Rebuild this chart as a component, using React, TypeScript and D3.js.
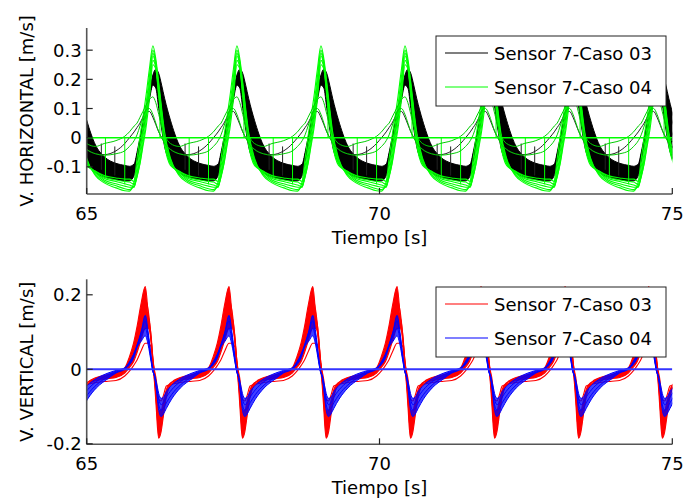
import React from 'react';
import * as d3 from 'd3';

// ---------- data ----------
const xTicks = [65, 70, 75];
const xTickLabels = ['65', '70', '75'];
const topYTicks = [-0.1, 0, 0.1, 0.2, 0.3];
const topYTickLabels = ['-0.1', '0', '0.1', '0.2', '0.3'];
const botYTicks = [-0.2, 0, 0.2];
const botYTickLabels = ['-0.2', '0', '0.2'];

// peak times of each cycle (s)
const topPeaks = [64.70, 66.13, 67.565, 69.0, 70.435, 71.87, 73.305, 74.74];
const botPeaks = [64.565, 66.0, 67.43, 68.86, 70.30, 71.735, 73.17, 74.60];

// phase (s, relative to the cycle peak) at which each cycle value is read
const phTop = [-0.40, -0.32, -0.27, -0.22, -0.17, -0.12, -0.06, 0, 0.05, 0.10, 0.15, 0.20, 0.30, 0.45, 0.60, 0.80, 0.95, 1.035];

// Sensor 7-Caso 04 (green), horizontal velocity
const hCaso04 = [
  [-0.183, -0.15, -0.07, 0.005, 0.07, 0.14, 0.235, 0.315, 0.27, 0.19, 0.10, 0.02, -0.07, -0.13, -0.155, -0.172, -0.182, -0.183],
  [-0.178, -0.165, -0.10, -0.03, 0.04, 0.11, 0.21, 0.30, 0.26, 0.18, 0.09, 0.01, -0.075, -0.125, -0.15, -0.165, -0.175, -0.178],
  [-0.17, -0.17, -0.12, -0.05, 0.02, 0.09, 0.19, 0.29, 0.25, 0.17, 0.085, 0.0, -0.08, -0.12, -0.145, -0.158, -0.166, -0.17],
  [-0.162, -0.168, -0.13, -0.07, 0.0, 0.07, 0.17, 0.28, 0.245, 0.16, 0.07, -0.01, -0.085, -0.12, -0.14, -0.15, -0.158, -0.162],
  [-0.152, -0.16, -0.135, -0.085, -0.02, 0.05, 0.15, 0.265, 0.24, 0.15, 0.06, -0.02, -0.09, -0.115, -0.135, -0.145, -0.15, -0.152],
  [-0.142, -0.15, -0.13, -0.09, -0.03, 0.03, 0.13, 0.25, 0.235, 0.14, 0.05, -0.025, -0.095, -0.115, -0.13, -0.138, -0.142, -0.142],
];
const hCaso04Thin = [
  [-0.03, -0.01, 0.01, 0.04, 0.07, 0.095, 0.10, 0.08, 0.05, 0.02, 0.0, -0.02, -0.04, -0.055, -0.06, -0.055, -0.045, -0.03],
  [0.02, 0.04, 0.05, 0.07, 0.09, 0.11, 0.13, 0.14, 0.12, 0.08, 0.04, 0.01, -0.02, -0.03, -0.02, -0.01, 0.005, 0.02],
];
// Sensor 7-Caso 03 (black), horizontal velocity
const hCaso03 = [
  [-0.098, -0.09, -0.05, 0.0, 0.05, 0.10, 0.16, 0.215, 0.235, 0.22, 0.18, 0.135, 0.06, -0.025, -0.065, -0.088, -0.095, -0.098],
  [-0.11, -0.10, -0.058, -0.008, 0.042, 0.092, 0.152, 0.205, 0.225, 0.195, 0.15, 0.10, 0.03, -0.05, -0.085, -0.103, -0.108, -0.11],
  [-0.122, -0.11, -0.065, -0.015, 0.035, 0.085, 0.145, 0.197, 0.21, 0.165, 0.11, 0.06, -0.01, -0.075, -0.105, -0.118, -0.122, -0.122],
  [-0.135, -0.12, -0.072, -0.022, 0.028, 0.078, 0.138, 0.19, 0.19, 0.135, 0.07, 0.015, -0.05, -0.1, -0.122, -0.132, -0.136, -0.135],
  [-0.148, -0.13, -0.08, -0.03, 0.02, 0.07, 0.13, 0.18, 0.17, 0.10, 0.03, -0.03, -0.085, -0.12, -0.135, -0.143, -0.148, -0.148],
];
const hCaso03Thin = [
  [0.0, 0.02, 0.035, 0.05, 0.07, 0.085, 0.09, 0.07, 0.045, 0.02, 0.0, -0.015, -0.04, -0.055, -0.058, -0.045, -0.02, 0.0],
];
// vertical strokes inside the bundles: [phase, from, to]
const hCaso03Verts = [[0.55, -0.02, -0.11], [0.78, -0.03, -0.13]];
const hCaso04Verts = [[0.62, 0.0, -0.14], [0.95, 0.0, -0.16], [0.12, 0.14, 0.0]];

const phBot = [-0.50, -0.35, -0.27, -0.20, -0.14, -0.07, 0, 0.05, 0.10, 0.13, 0.16, 0.19, 0.21, 0.23, 0.27, 0.31, 0.36, 0.45, 0.60, 0.80, 0.937];
// Sensor 7-Caso 03 (red), vertical velocity
const vCaso03 = [
  [-0.008, 0.004, 0.034, 0.07, 0.115, 0.178, 0.222, 0.15, 0.07, 0.01, -0.04, -0.11, -0.16, -0.185, -0.168, -0.125, -0.075, -0.035, -0.022, -0.014, -0.008],
  [-0.012, 0.0, 0.022, 0.052, 0.092, 0.15, 0.188, 0.158, 0.085, 0.022, -0.03, -0.09, -0.14, -0.165, -0.152, -0.112, -0.07, -0.04, -0.028, -0.018, -0.012],
  [-0.018, -0.005, 0.012, 0.035, 0.07, 0.12, 0.15, 0.14, 0.09, 0.03, -0.02, -0.07, -0.115, -0.14, -0.135, -0.10, -0.065, -0.04, -0.03, -0.02, -0.018],
  [-0.022, -0.01, 0.005, 0.02, 0.045, 0.08, 0.11, 0.11, 0.08, 0.03, -0.01, -0.05, -0.085, -0.11, -0.11, -0.085, -0.055, -0.035, -0.03, -0.025, -0.022],
  [-0.03, -0.018, -0.005, 0.01, 0.025, 0.05, 0.07, 0.07, 0.06, 0.02, -0.005, -0.03, -0.06, -0.08, -0.085, -0.07, -0.045, -0.04, -0.035, -0.032, -0.03],
];
// Sensor 7-Caso 04 (blue), vertical velocity
const vCaso04 = [
  [-0.01, 0.0, 0.012, 0.03, 0.06, 0.10, 0.145, 0.10, 0.035, 0.0, -0.02, -0.055, -0.085, -0.11, -0.127, -0.12, -0.105, -0.08, -0.05, -0.025, -0.01],
  [-0.008, 0.002, 0.015, 0.035, 0.065, 0.10, 0.13, 0.09, 0.03, -0.005, -0.02, -0.05, -0.075, -0.095, -0.11, -0.105, -0.09, -0.068, -0.042, -0.02, -0.008],
  [-0.005, 0.003, 0.018, 0.04, 0.065, 0.09, 0.11, 0.08, 0.025, -0.005, -0.02, -0.045, -0.065, -0.08, -0.095, -0.09, -0.075, -0.055, -0.033, -0.015, -0.005],
  [-0.003, 0.004, 0.02, 0.04, 0.06, 0.075, 0.09, 0.065, 0.02, -0.005, -0.015, -0.035, -0.05, -0.065, -0.078, -0.075, -0.06, -0.043, -0.025, -0.01, -0.003],
];

const legendTop = ['Sensor 7-Caso 03', 'Sensor 7-Caso 04'];
const legendBot = ['Sensor 7-Caso 03', 'Sensor 7-Caso 04'];

// ---------- helpers ----------
type Pt = [number, number];
function tile(peaks: number[], phases: number[], vals: number[]): Pt[] {
  const pts: Pt[] = [];
  peaks.forEach((p, k) => {
    phases.forEach((ph, i) => {
      if (k < peaks.length - 1 && i === phases.length - 1) return;
      pts.push([p + ph, vals[i]]);
    });
  });
  return pts;
}

const FONT = "'DejaVu Sans', sans-serif";
const FS = 18;
const AX = '#555';

const x = d3.scaleLinear().domain([65, 75]).range([86.7, 672.3]);
const yTop = d3.scaleLinear().domain([-0.193, 0.376]).range([194, 28]);
const yBot = d3.scaleLinear().domain([-0.2013, 0.2416]).range([444.3, 279.3]);

function Axes({ y, yTicks, yLabels, ylabel, top, bottom }: any) {
  const x0 = x.range()[0], x1 = x.range()[1];
  return (
    <g>
      <line x1={x0} x2={x0} y1={top} y2={bottom} stroke={AX} strokeWidth={1.6} />
      <line x1={x0} x2={x1} y1={bottom} y2={bottom} stroke={AX} strokeWidth={1.6} />
      {yTicks.map((t: number, i: number) => (
        <g key={'y' + i}>
          <line x1={x0} x2={x0 + 6} y1={y(t)} y2={y(t)} stroke="#222" strokeWidth={1.2} />
          <text x={x0 - 5} y={y(t)} textAnchor="end" dominantBaseline="central" fontFamily={FONT} fontSize={FS}>{yLabels[i]}</text>
        </g>
      ))}
      {xTicks.map((t, i) => (
        <g key={'x' + i}>
          <line x1={x(t)} x2={x(t)} y1={bottom} y2={bottom - 6} stroke="#222" strokeWidth={1.2} />
          <text x={x(t)} y={bottom + 19} textAnchor="middle" dominantBaseline="central" fontFamily={FONT} fontSize={FS}>{xTickLabels[i]}</text>
        </g>
      ))}
      <text x={(x0 + x1) / 2} y={bottom + 43} textAnchor="middle" dominantBaseline="central" fontFamily={FONT} fontSize={FS}>Tiempo [s]</text>
      <text transform={`translate(26,${(top + bottom) / 2}) rotate(-90)`} textAnchor="middle" dominantBaseline="central" fontFamily={FONT} fontSize={FS}>{ylabel}</text>
    </g>
  );
}

function Legend({ x0, y0, labels, colors }: any) {
  return (
    <g>
      <rect x={x0} y={y0} width={230} height={70} fill="white" stroke="#222" strokeWidth={1} />
      {labels.map((l: string, i: number) => (
        <g key={i}>
          <line x1={x0 + 9} x2={x0 + 52} y1={y0 + 17 + i * 34} y2={y0 + 17 + i * 34} stroke={colors[i]} strokeWidth={1.2} />
          <text x={x0 + 58} y={y0 + 17 + i * 34} dominantBaseline="central" fontFamily={FONT} fontSize={FS}>{l}</text>
        </g>
      ))}
    </g>
  );
}

export default function App() {
  const lineTop = d3.line<Pt>().x(d => x(d[0])).y(d => yTop(d[1])).curve(d3.curveMonotoneX);
  const lineBot = d3.line<Pt>().x(d => x(d[0])).y(d => yBot(d[1])).curve(d3.curveMonotoneX);

  const blackUp = tile(topPeaks, phTop, hCaso03[0]);
  const blackLo = tile(topPeaks, phTop, hCaso03[hCaso03.length - 1]);
  const blackArea = d3.area<number>()
    .x(i => x(blackUp[i][0])).y0(i => yTop(blackLo[i][1])).y1(i => yTop(blackUp[i][1]))
    .curve(d3.curveMonotoneX)(blackUp.map((_, i) => i)) || '';

  const redOut = tile(botPeaks, phBot, vCaso03[0]);
  const redIn = tile(botPeaks, phBot, vCaso03[3]);
  const redArea = d3.area<number>()
    .x(i => x(redOut[i][0])).y0(i => yBot(redIn[i][1])).y1(i => yBot(redOut[i][1]))
    .curve(d3.curveMonotoneX)(redOut.map((_, i) => i)) || '';
  const blueOut = tile(botPeaks, phBot, vCaso04[0]);
  const blueIn = tile(botPeaks, phBot, vCaso04[3]);
  const blueArea = d3.area<number>()
    .x(i => x(blueOut[i][0])).y0(i => yBot(blueIn[i][1])).y1(i => yBot(blueOut[i][1]))
    .curve(d3.curveMonotoneX)(blueOut.map((_, i) => i)) || '';

  const verts = (peaks: number[], vs: number[][]) =>
    peaks.flatMap(p => vs.map(v => [p + v[0], v[1], v[2]]));

  const x0 = x.range()[0], x1 = x.range()[1];

  return (
    <svg width={685} height={501} style={{ position: 'absolute', left: 0, top: 0, background: 'white' }}>
      <defs>
        <clipPath id="clipTop"><rect x={x0} y={28} width={x1 - x0} height={166} /></clipPath>
        <clipPath id="clipBot"><rect x={x0} y={279} width={x1 - x0} height={166} /></clipPath>
      </defs>
      <rect x={0} y={0} width={685} height={501} fill="white" />

      {/* top plot */}
      <g clipPath="url(#clipTop)">
        <path d={blackArea} fill="#000" />
        {hCaso03.map((c, i) => (
          <path key={'k' + i} d={lineTop(tile(topPeaks, phTop, c)) || ''} fill="none" stroke="#000" strokeWidth={1} />
        ))}
        {hCaso03Thin.map((c, i) => (
          <path key={'kt' + i} d={lineTop(tile(topPeaks, phTop, c)) || ''} fill="none" stroke="#222" strokeWidth={1} />
        ))}
        {verts(topPeaks, hCaso03Verts).map((v, i) => (
          <line key={'kv' + i} x1={x(v[0])} x2={x(v[0])} y1={yTop(v[1])} y2={yTop(v[2])} stroke="#222" strokeWidth={1} />
        ))}
        {hCaso04.map((c, i) => (
          <path key={'g' + i} d={lineTop(tile(topPeaks, phTop, c)) || ''} fill="none" stroke="#00ff00" strokeWidth={1.1} />
        ))}
        {verts(topPeaks, hCaso04Verts).map((v, i) => (
          <line key={'gv' + i} x1={x(v[0])} x2={x(v[0])} y1={yTop(v[1])} y2={yTop(v[2])} stroke="#00ff00" strokeWidth={1} />
        ))}
        {hCaso04Thin.map((c, i) => (
          <path key={'gt' + i} d={lineTop(tile(topPeaks, phTop, c)) || ''} fill="none" stroke="#00cc00" strokeWidth={1} />
        ))}
        <line x1={x0} x2={x1} y1={yTop(0)} y2={yTop(0)} stroke="#00ff00" strokeWidth={1.5} />
      </g>
      <Axes y={yTop} yTicks={topYTicks} yLabels={topYTickLabels} ylabel="V. HORIZONTAL [m/s]" top={28} bottom={194} />
      <Legend x0={436} y0={36} labels={legendTop} colors={['#000', '#00ff00']} />

      {/* bottom plot */}
      <g clipPath="url(#clipBot)">
        <path d={redArea} fill="#ff0000" />
        {vCaso03.map((c, i) => (
          <path key={'r' + i} d={lineBot(tile(botPeaks, phBot, c)) || ''} fill="none" stroke="#ff0000" strokeWidth={1.1} />
        ))}
        <path d={blueArea} fill="#0000ff" opacity={0.75} />
        {vCaso04.map((c, i) => (
          <path key={'b' + i} d={lineBot(tile(botPeaks, phBot, c)) || ''} fill="none" stroke="#0000ff" strokeWidth={1} />
        ))}
        <line x1={x0} x2={x1} y1={yBot(0)} y2={yBot(0)} stroke="#3333ff" strokeWidth={2} />
      </g>
      <Axes y={yBot} yTicks={botYTicks} yLabels={botYTickLabels} ylabel="V. VERTICAL [m/s]" top={279.3} bottom={444.3} />
      <Legend x0={436} y0={287} labels={legendBot} colors={['#ff0000', '#0000ff']} />
    </svg>
  );
}
